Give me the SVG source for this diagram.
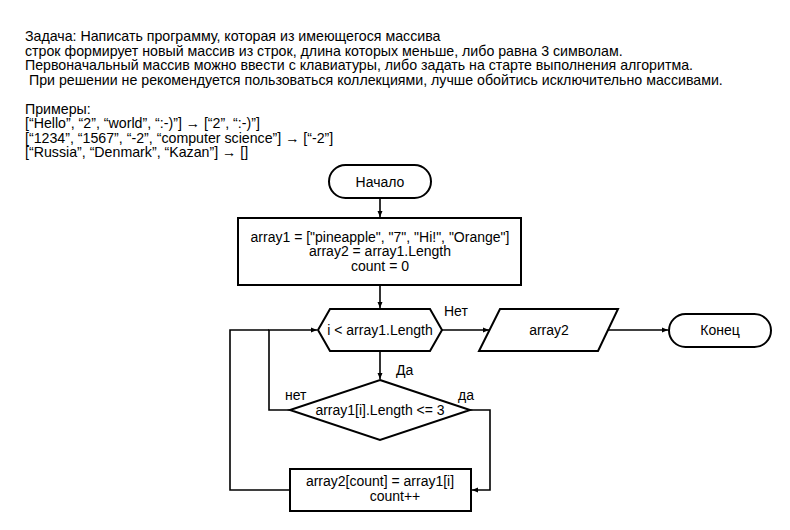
<svg xmlns="http://www.w3.org/2000/svg" width="790" height="530" viewBox="0 0 790 530">
<defs>
<marker id="ah" markerWidth="8" markerHeight="8" refX="7" refY="4" orient="auto" markerUnits="userSpaceOnUse">
<path d="M1,1.5 L7,4 L1,6.5 Z" fill="#000"/>
</marker>
<style>
text{font-family:"Liberation Sans",Arial,sans-serif;font-size:14px;fill:#000}
.t{font-size:14.2px}
.c{text-anchor:middle}
.s{fill:#fff;stroke:#000;stroke-width:2}
.e{fill:none;stroke:#000;stroke-width:1.6}
</style>
</defs>
<rect width="790" height="530" fill="#fff"/>
<g id="task">
<text class="t" x="25" y="41">Задача: Написать программу, которая из имеющегося массива</text>
<text class="t" x="25" y="55.5">строк формирует новый массив из строк, длина которых меньше, либо равна 3 символам.</text>
<text class="t" x="25" y="70">Первоначальный массив можно ввести с клавиатуры, либо задать на старте выполнения алгоритма.</text>
<text class="t" x="25" y="84.5" xml:space="preserve"> При решении не рекомендуется пользоваться коллекциями, лучше обойтись исключительно массивами.</text>
<text class="t" x="25" y="113.5">Примеры:</text>
<text class="t" x="25" y="128">[“Hello”, “2”, “world”, “:-)”] → [“2”, “:-)”]</text>
<text class="t" x="25" y="142.5">[“1234”, “1567”, “-2”, “computer science”] → [“-2”]</text>
<text class="t" x="25" y="157">[“Russia”, “Denmark”, “Kazan”] → []</text>
</g>
<g id="edges">
<path class="e" d="M380,198 V217" marker-end="url(#ah)"/>
<path class="e" d="M380,285 V308" marker-end="url(#ah)"/>
<path class="e" d="M442,330 H489" marker-end="url(#ah)"/>
<path class="e" d="M608,330 H668" marker-end="url(#ah)"/>
<path class="e" d="M380,351 V379" marker-end="url(#ah)"/>
<path class="e" d="M290,410 H269 V330 H317" marker-end="url(#ah)"/>
<path class="e" d="M470,410 H490 V490 H472" marker-end="url(#ah)"/>
<path class="e" d="M290,490 H230 V330 H269"/>
<text x="444" y="316">Нет</text>
<text x="396" y="375">Да</text>
<text x="285" y="400">нет</text>
<text x="458" y="400">да</text>
</g>
<g id="start">
<rect class="s" x="329" y="165" width="102" height="33" rx="16.5"/>
<text class="c" x="380" y="186.5">Начало</text>
</g>
<g id="init">
<rect class="s" x="238" y="218" width="283" height="67"/>
<text class="c" x="380" y="241.5">array1 = ["pineapple", "7", "Hi!", "Orange"]</text>
<text class="c" x="380" y="256">array2 = array1.Length</text>
<text class="c" x="380" y="270.5">count = 0</text>
</g>
<g id="loop">
<polygon class="s" points="318,330 330,309 430,309 442,330 430,351 330,351"/>
<text class="c" x="380" y="335">i &lt; array1.Length</text>
</g>
<g id="output">
<polygon class="s" points="500,309 618,309 598,351 479,351"/>
<text class="c" x="549" y="335">array2</text>
</g>
<g id="end">
<rect class="s" x="669" y="314" width="102" height="33" rx="16.5"/>
<text class="c" x="720" y="335">Конец</text>
</g>
<g id="check">
<polygon class="s" points="380,380 470,410 380,440 290,410"/>
<text class="c" x="380" y="415">array1[i].Length &lt;= 3</text>
</g>
<g id="assign">
<rect class="s" x="290" y="469" width="181" height="42"/>
<text class="c" x="380" y="485.5">array2[count] = array1[i]</text>
<text class="c" x="395" y="501">count++</text>
</g>
</svg>
